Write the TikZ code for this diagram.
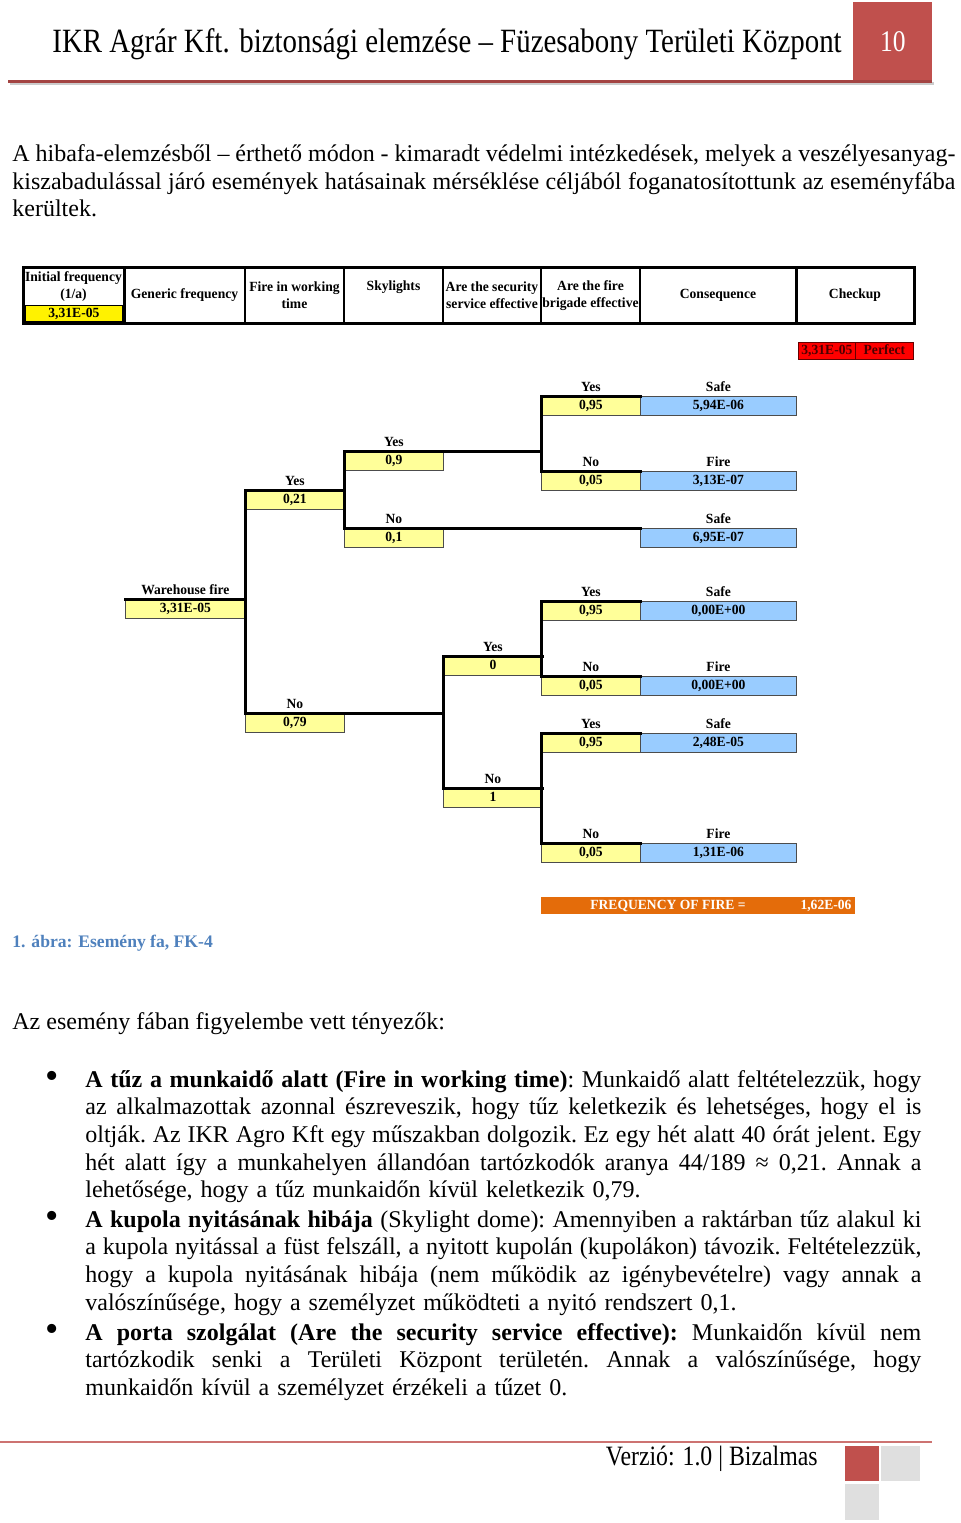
\documentclass[tikz,border=0pt]{standalone}
\usepackage{fontspec}
\setmainfont{Liberation Serif}
\newfontfamily\treefam[FakeStretch=0.97]{Liberation Serif}
\newfontfamily\headfam[FakeStretch=0.85]{Liberation Serif}
\usetikzlibrary{positioning}
\definecolor{hdred}{RGB}{192,80,77}
\definecolor{treeyel}{RGB}{255,255,153}
\definecolor{treeblu}{RGB}{153,204,255}
\definecolor{firered}{RGB}{255,0,0}
\definecolor{freqorg}{RGB}{228,108,10}
\definecolor{capblue}{RGB}{79,129,189}
\newcommand\treefont{\treefam\bfseries\fontsize{7}{8.5}\selectfont}
\newlength\bodyw \setlength\bodyw{471.5pt}
\newlength\itemw \setlength\itemw{418pt}
\newcommand\jl[1]{\leavevmode\hbox to\bodyw{\spaceskip=\fontdimen2\font plus 1fil minus .45\fontdimen2\font\relax #1}}
\newcommand\ji[1]{\leavevmode\hbox to\itemw{\spaceskip=\fontdimen2\font plus 1fil minus .45\fontdimen2\font\relax #1}}

\begin{document}
\begin{tikzpicture}[x=0.5pt,y=-0.5pt,
  cell/.style={draw=black!70,line width=0.4pt,anchor=north west,minimum height=9.5pt,inner sep=0pt,text height=4.8pt,text depth=1.2pt,font=\treefont},
  ycell/.style={cell,fill=treeyel,minimum width=49.5pt},
  bcell/.style={cell,fill=treeblu,minimum width=78pt},
  lbl/.style={font=\treefont,inner sep=0pt,text depth=0pt,above=2.2pt of #1},
  tl/.style={line width=1.5pt,line cap=rect},
  body/.style={anchor=base west,inner sep=0pt,align=left,font=\fontsize{12}{13.85}\selectfont\frenchspacing},
  dot/.style={anchor=base,inner sep=0pt,font=\fontsize{19}{19}\selectfont},
  hd/.style={font=\treefont,inner sep=0pt,align=center}]
\fill[white] (0,0) rectangle (960,1523);
\useasboundingbox (0,0) rectangle (960,1523);

% header and footer of the page
\node[anchor=base west,inner sep=0pt,font=\headfam\fontsize{17}{20}\selectfont] (title) at (52,52) {IKR Agrár Kft. biztonsági elemzése – Füzesabony Területi Központ};
\node[fill=hdred,text=white,anchor=north west,minimum width=39.5pt,minimum height=39pt,inner sep=0pt,font=\headfam\fontsize{15}{18}\selectfont] (pnum) at (853,2) {10};
\draw[gray!40,line width=1.2pt] (10,83.5) -- (934,83.5);
\draw[hdred!85!black,line width=1.5pt] (8,81) -- (932,81);
\draw[hdred!80,line width=1pt] (0,1442) -- (932,1442);
\node[anchor=base east,inner sep=0pt,font=\headfam\fontsize{14}{16}\selectfont] (foot) at (818,1465) {Verzió: 1.0 | Bizalmas};
\fill[hdred] (845,1446) rectangle (879,1481);
\fill[gray!25] (881,1446) rectangle (920,1481);
\fill[gray!25] (845,1484) rectangle (879,1520);

\node[body,text width=\bodyw] (intro) at (12,161.5) {\jl{A hibafa-elemzésből – érthető módon - kimaradt védelmi intézkedések, melyek a veszélyesanyag-}\\
\jl{kiszabadulással járó események hatásainak mérséklése céljából foganatosítottunk az eseményfába}\\
kerültek.};

% table head
\draw[line width=1.5pt] (23,267) rectangle (914,323);
\draw[line width=1.5pt] (124,267) -- (124,323);
\draw[line width=0.8pt] (245,267) -- (245,323);
\draw[line width=0.8pt] (344,267) -- (344,323);
\draw[line width=0.8pt] (443,267) -- (443,323);
\draw[line width=0.8pt] (541,267) -- (541,323);
\draw[line width=0.8pt] (640,267) -- (640,323);
\draw[line width=1.5pt] (796,267) -- (796,323);
\node[hd] (hinit) at (73.5,286.5) {Initial frequency\\(1/a)};
\node[cell,fill=yellow,draw=black,minimum width=48.5pt,minimum height=8pt] (hfreq) at (25,305) {3,31E-05};
\node[hd] (hgen) at (184.5,295) {Generic frequency};
\node[hd] (hwork) at (294.5,295.5) {Fire in working\\time};
\node[hd] (hsky) at (393.5,287) {Skylights};
\node[hd] (hsec) at (492,295.5) {Are the security\\service effective};
\node[hd] (hbrig) at (590.5,295.5) {Are the fire\\brigade effective};
\node[hd] (hcons) at (718,295) {Consequence};
\node[hd] (hcheck) at (855,295) {Checkup};

\node[cell,fill=firered,draw=red!40!black,minimum width=28.5pt,minimum height=8.5pt,text=red!30!black] (chkval) at (798,342) {3,31E-05};
\node[cell,fill=firered,draw=red!40!black,minimum width=29pt,minimum height=8.5pt,text=red!30!black] (chkres) at (855,342) {Perfect};

% event tree
\node[cell,fill=treeyel,minimum width=60pt] (wf) at (125,599) {3,31E-05};
\node[ycell] (wy) at (245,490) {0,21};
\node[ycell] (wn) at (245,713) {0,79};
\node[ycell] (sy) at (344,451) {0,9};
\node[ycell] (sn) at (344,528) {0,1};
\node[ycell] (fyy) at (541,396) {0,95};
\node[ycell] (fyn) at (541,471) {0,05};
\node[ycell] (gy) at (443,656) {0};
\node[ycell] (gn) at (443,788) {1};
\node[ycell] (gyy) at (541,601) {0,95};
\node[ycell] (gyn) at (541,676) {0,05};
\node[ycell] (gny) at (541,733) {0,95};
\node[ycell] (gnn) at (541,843) {0,05};
\node[bcell] (cyy) at (640,396) {5,94E-06};
\node[bcell] (cyn) at (640,471) {3,13E-07};
\node[bcell] (csn) at (640,528) {6,95E-07};
\node[bcell] (cgyy) at (640,601) {0,00E+00};
\node[bcell] (cgyn) at (640,676) {0,00E+00};
\node[bcell] (cgny) at (640,733) {2,48E-05};
\node[bcell] (cgnn) at (640,843) {1,31E-06};

\node[lbl=wf] (lwf) {Warehouse fire};
\node[lbl=wy] (lwy) {Yes};
\node[lbl=wn] (lwn) {No};
\node[lbl=sy] (lsy) {Yes};
\node[lbl=sn] (lsn) {No};
\node[lbl=fyy] (lfyy) {Yes};
\node[lbl=fyn] (lfyn) {No};
\node[lbl=gy] (lgy) {Yes};
\node[lbl=gn] (lgn) {No};
\node[lbl=gyy] (lgyy) {Yes};
\node[lbl=gyn] (lgyn) {No};
\node[lbl=gny] (lgny) {Yes};
\node[lbl=gnn] (lgnn) {No};
\node[lbl=cyy] (lcyy) {Safe};
\node[lbl=cyn] (lcyn) {Fire};
\node[lbl=csn] (lcsn) {Safe};
\node[lbl=cgyy] (lcgyy) {Safe};
\node[lbl=cgyn] (lcgyn) {Fire};
\node[lbl=cgny] (lcgny) {Safe};
\node[lbl=cgnn] (lcgnn) {Fire};

\draw[tl] (wf.north west) -- (wf.north east);
\draw[tl] (wy.north west) -- (wn.north west);
\draw[tl] (wy.north west) -- (wy.north east);
\draw[tl] (sy.north west) -- (sn.north west);
\draw[tl] (sy.north west) -- (sy.north west -| fyy.north west);
\draw[tl] (fyy.north west) -- (fyn.north west);
\draw[tl] (fyy.north west) -- (fyy.north east);
\draw[tl] (fyn.north west) -- (fyn.north east);
\draw[tl] (sn.north west) -- (csn.north west);
\draw[tl] (wn.north west) -- (wn.north west -| gy.north west);
\draw[tl] (gy.north west) -- (gn.north west);
\draw[tl] (gy.north west) -- (gy.north east);
\draw[tl] (gn.north west) -- (gn.north east);
\draw[tl] (gyy.north west) -- (gyn.north west);
\draw[tl] (gyy.north west) -- (gyy.north east);
\draw[tl] (gyn.north west) -- (gyn.north east);
\draw[tl] (gny.north west) -- (gnn.north west);
\draw[tl] (gny.north west) -- (gny.north east);
\draw[tl] (gnn.north west) -- (gnn.north east);

\node[cell,fill=freqorg,draw=none,minimum width=157pt,minimum height=8.5pt] (freqbar) at (541,897) {};
\node[hd,text=white] (freqtxt) at (668,906) {FREQUENCY OF FIRE =};
\node[hd,text=white] (freqval) at (826,906) {1,62E-06};

% text below the figure
\node[anchor=base west,inner sep=0pt,font=\bfseries\fontsize{8.8}{10}\selectfont,text=capblue] (cap) at (12,947) {1. ábra: Esemény fa, FK-4};
\node[body] (factors) at (12,1029) {Az esemény fában figyelembe vett tényezők:};

\node[dot] (b1) at (52,1088) {•};
\node[body,text width=\itemw] (item1) at (85,1087) {\ji{\textbf{A tűz a munkaidő alatt (Fire in working time)}: Munkaidő alatt feltételezzük, hogy}\\
\ji{az alkalmazottak azonnal észreveszik, hogy tűz keletkezik és lehetséges, hogy el is}\\
\ji{oltják. Az IKR Agro Kft egy műszakban dolgozik. Ez egy hét alatt 40 órát jelent. Egy}\\
\ji{hét alatt így a munkahelyen állandóan tartózkodók aranya 44/189 ≈ 0,21. Annak a}\\
lehetősége, hogy a tűz munkaidőn kívül keletkezik 0,79.};
\node[dot] (b2) at (52,1228) {•};
\node[body,text width=\itemw] (item2) at (85,1227) {\ji{\textbf{A kupola nyitásának hibája} (Skylight dome): Amennyiben a raktárban tűz alakul ki}\\
\ji{a kupola nyitással a füst felszáll, a nyitott kupolán (kupolákon) távozik. Feltételezzük,}\\
\ji{hogy a kupola nyitásának hibája (nem működik az igénybevételre) vagy annak a}\\
valószínűsége, hogy a személyzet működteti a nyitó rendszert 0,1.};
\node[dot] (b3) at (52,1341) {•};
\node[body,text width=\itemw] (item3) at (85,1340) {\ji{\textbf{A porta szolgálat (Are the security service effective):} Munkaidőn kívül nem}\\
\ji{tartózkodik senki a Területi Központ területén. Annak a valószínűsége, hogy}\\
munkaidőn kívül a személyzet érzékeli a tűzet 0.};
\end{tikzpicture}
\end{document}
